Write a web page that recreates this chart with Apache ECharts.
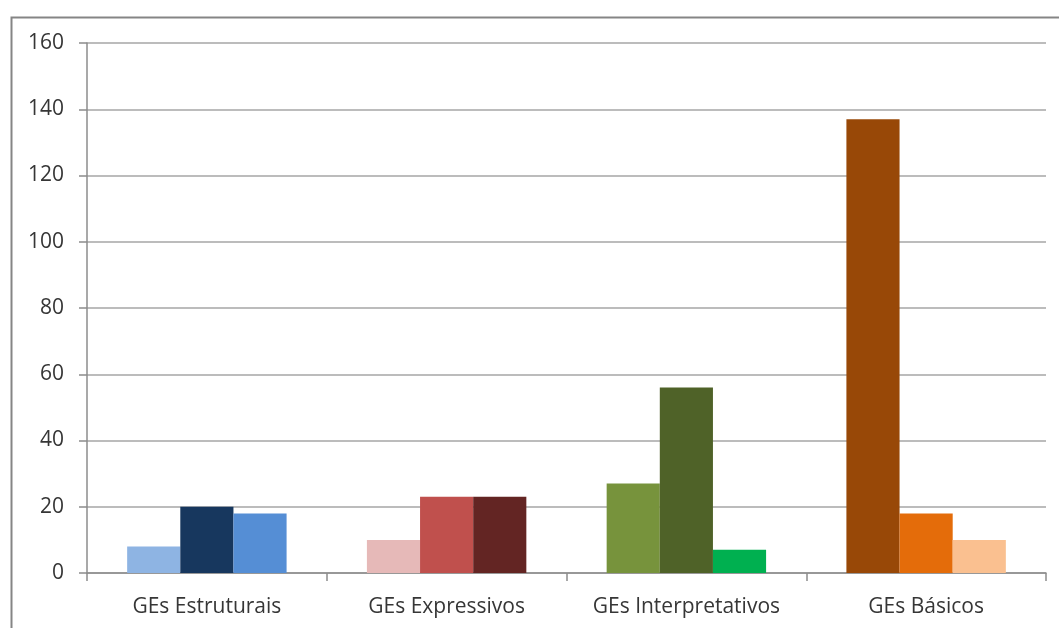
<!DOCTYPE html>
<html>
<head>
<meta charset="utf-8">
<script src="https://cdn.jsdelivr.net/npm/echarts@6/dist/echarts.min.js"></script>
<style>
  html, body { margin: 0; padding: 0; background: #ffffff; }
  #chart { width: 1059px; height: 628px; }
</style>
</head>
<body>
<div id="chart"></div>
<script>
// Categories and the three values drawn for each group
const categories = ['GEs Estruturais', 'GEs Expressivos', 'GEs Interpretativos', 'GEs Básicos'];
const firstValues = [8, 10, 27, 137];
const secondValues = [20, 23, 56, 18];
const thirdValues = [18, 23, 7, 10];
const yTicks = { min: 0, max: 160, interval: 20 };

// Each group has its own colour family
const firstColors = ['#8eb4e3', '#e6b9b8', '#77933c', '#984807'];
const secondColors = ['#17375e', '#c0504d', '#4f6228', '#e46c0a'];
const thirdColors = ['#558ed5', '#632523', '#00b050', '#fac090'];

function coloured(values, colors) {
  return values.map((v, i) => ({ value: v, itemStyle: { color: colors[i] } }));
}

const fontFamily = '"Open Sans", "Noto Sans", sans-serif';
const chart = echarts.init(document.getElementById('chart'));
chart.setOption({
  animation: false,
  backgroundColor: '#ffffff',
  graphic: [{
    type: 'rect',
    left: 9, top: 15,
    shape: { width: 1080, height: 640 },
    style: { fill: 'none', stroke: '#858585', lineWidth: 2 },
    silent: true
  }],
  grid: { left: 87, right: 13, top: 43, bottom: 55, containLabel: false },
  xAxis: {
    type: 'category',
    data: categories,
    boundaryGap: true,
    axisLine: { lineStyle: { color: '#8c8c8c', width: 1.5 } },
    axisTick: { show: true, interval: 0, length: 8, lineStyle: { color: '#8c8c8c', width: 1.5 } },
    axisLabel: { interval: 0, color: '#363636', fontSize: 21, fontFamily: fontFamily, margin: 24 }
  },
  yAxis: {
    type: 'value',
    min: yTicks.min, max: yTicks.max, interval: yTicks.interval,
    axisLine: { show: true, lineStyle: { color: '#8c8c8c', width: 1.5 } },
    axisTick: { show: true, length: 8, lineStyle: { color: '#8c8c8c', width: 1.5 } },
    axisLabel: { color: '#363636', fontSize: 21, fontFamily: fontFamily, margin: 23 },
    splitLine: { show: true, lineStyle: { color: '#a6a6a6', width: 1.5 } }
  },
  series: [
    { type: 'bar', data: coloured(firstValues, firstColors), barGap: '0%', barCategoryGap: '33.5%' },
    { type: 'bar', data: coloured(secondValues, secondColors), barGap: '0%', barCategoryGap: '33.5%' },
    { type: 'bar', data: coloured(thirdValues, thirdColors), barGap: '0%', barCategoryGap: '33.5%' }
  ]
});
</script>
</body>
</html>
